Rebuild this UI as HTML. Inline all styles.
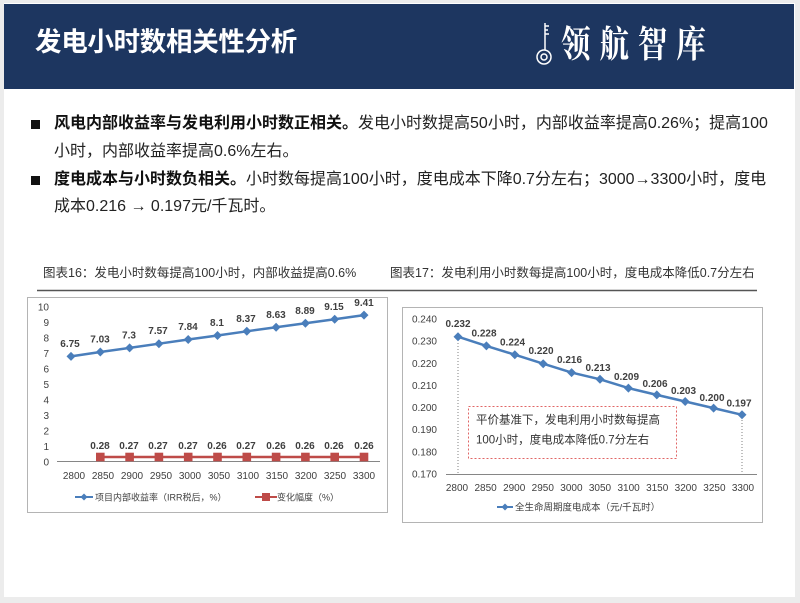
<!DOCTYPE html>
<html><head><meta charset="utf-8">
<style>
html,body{margin:0;padding:0;}
body{width:800px;height:603px;background:#ececec;position:relative;overflow:hidden;font-family:"Liberation Sans","Noto Sans CJK SC",sans-serif;}
#slide{position:absolute;left:4px;top:3px;width:791px;height:594px;background:#fff;}
#hdr{position:absolute;left:4px;top:4px;width:790px;height:85px;background:#1d3660;}
#title{position:absolute;left:35px;top:25px;font-size:26.5px;line-height:30px;font-weight:bold;color:#fff;font-family:"Noto Sans CJK SC",sans-serif;white-space:nowrap;letter-spacing:-0.3px;}
#logo{position:absolute;left:561px;top:20px;font-size:37px;line-height:42px;font-weight:bold;color:#fff;font-family:"Noto Serif CJK SC",serif;white-space:nowrap;letter-spacing:11px;transform:scaleX(0.8);transform-origin:left center;}
.bl{position:absolute;left:54px;font-size:16px;line-height:20px;color:#222;white-space:nowrap;font-family:"Liberation Sans","Noto Sans CJK SC",sans-serif;}
.bl b{color:#111;}
.sq{position:absolute;left:31px;width:9px;height:9px;background:#111;}
.ct{position:absolute;font-size:12.5px;line-height:16px;color:#333;white-space:nowrap;font-family:"Liberation Sans","Noto Sans CJK SC",sans-serif;}
svg text{font-family:"Liberation Sans","Noto Sans CJK SC",sans-serif;}
</style></head><body>
<div id="slide"></div>
<div id="hdr"></div>
<div id="title">发电小时数相关性分析</div>
<div id="logo">领航智库</div>

<div class="sq" style="top:120px"></div>
<div class="bl" style="top:114px"><b>风电内部收益率与发电利用小时数正相关。</b>发电小时数提高50小时，内部收益率提高0.26%；提高100</div>
<div class="bl" style="top:142px">小时，内部收益率提高0.6%左右。</div>
<div class="sq" style="top:176px"></div>
<div class="bl" style="top:170px"><b>度电成本与小时数负相关。</b>小时数每提高100小时，度电成本下降0.7分左右；3000→3300小时，度电</div>
<div class="bl" style="top:197px">成本0.216 → 0.197元/千瓦时。</div>

<div class="ct" style="left:43px;top:265px">图表16：发电小时数每提高100小时，内部收益提高0.6%</div>
<div class="ct" style="left:390px;top:265px">图表17：发电利用小时数每提高100小时，度电成本降低0.7分左右</div>

<svg width="800" height="603" style="position:absolute;left:0;top:0" xmlns="http://www.w3.org/2000/svg">
<!-- key icon -->
<g stroke="#fff" fill="none" stroke-width="1.5">
<line x1="545" y1="23" x2="545" y2="50"/>
<line x1="545" y1="26" x2="549" y2="26"/>
<line x1="545" y1="30" x2="548" y2="30"/>
<line x1="545" y1="34" x2="549" y2="34"/>
<circle cx="544" cy="57" r="7"/>
<circle cx="544" cy="57" r="3"/>
</g>
<!-- separator -->
<line x1="37" y1="290.5" x2="757" y2="290.5" stroke="#555" stroke-width="1.5"/>

<!-- LEFT CHART -->
<rect x="27.5" y="297.5" width="360" height="215" fill="#fff" stroke="#b4b4b4"/>
<g font-size="10" fill="#404040" text-anchor="end">
<text x="49" y="310.5">10</text><text x="49" y="326">9</text><text x="49" y="341.5">8</text><text x="49" y="357">7</text><text x="49" y="372.5">6</text><text x="49" y="388">5</text><text x="49" y="403.5">4</text><text x="49" y="419">3</text><text x="49" y="434.5">2</text><text x="49" y="450">1</text><text x="49" y="465.5">0</text>
</g>
<line x1="57" y1="461.5" x2="380" y2="461.5" stroke="#868686"/>
<g font-size="10" fill="#404040" text-anchor="middle">
<text x="74" y="479">2800</text><text x="103" y="479">2850</text><text x="132" y="479">2900</text><text x="161" y="479">2950</text><text x="190" y="479">3000</text><text x="219" y="479">3050</text><text x="248" y="479">3100</text><text x="277" y="479">3150</text><text x="306" y="479">3200</text><text x="335" y="479">3250</text><text x="364" y="479">3300</text>
</g>
<polyline fill="none" stroke="#4a7ebb" stroke-width="2.5" points="71,356.4 100.3,352 129.6,347.9 158.9,343.7 188.2,339.5 217.5,335.5 246.8,331.3 276.1,327.2 305.4,323.2 334.7,319.2 364,315.1"/>
<g fill="#4a7ebb">
<path d="M71,351.9l4.5,4.5l-4.5,4.5l-4.5,-4.5z"/><path d="M100.3,347.5l4.5,4.5l-4.5,4.5l-4.5,-4.5z"/><path d="M129.6,343.4l4.5,4.5l-4.5,4.5l-4.5,-4.5z"/><path d="M158.9,339.2l4.5,4.5l-4.5,4.5l-4.5,-4.5z"/><path d="M188.2,335l4.5,4.5l-4.5,4.5l-4.5,-4.5z"/><path d="M217.5,331l4.5,4.5l-4.5,4.5l-4.5,-4.5z"/><path d="M246.8,326.8l4.5,4.5l-4.5,4.5l-4.5,-4.5z"/><path d="M276.1,322.7l4.5,4.5l-4.5,4.5l-4.5,-4.5z"/><path d="M305.4,318.7l4.5,4.5l-4.5,4.5l-4.5,-4.5z"/><path d="M334.7,314.7l4.5,4.5l-4.5,4.5l-4.5,-4.5z"/><path d="M364,310.6l4.5,4.5l-4.5,4.5l-4.5,-4.5z"/>
</g>
<g font-size="10" font-weight="bold" fill="#404040" text-anchor="middle">
<text x="70" y="347">6.75</text><text x="100" y="342.5">7.03</text><text x="129" y="338.5">7.3</text><text x="158" y="334">7.57</text><text x="188" y="330">7.84</text><text x="217" y="326">8.1</text><text x="246" y="322">8.37</text><text x="276" y="318">8.63</text><text x="305" y="314">8.89</text><text x="334" y="310">9.15</text><text x="364" y="306">9.41</text>
</g>
<polyline fill="none" stroke="#be4b48" stroke-width="2.5" points="100.3,457 129.6,457 158.9,457 188.2,457 217.5,457 246.8,457 276.1,457 305.4,457 334.7,457 364,457"/>
<g fill="#be4b48">
<rect x="96" y="452.7" width="8.6" height="8.6"/><rect x="125.3" y="452.7" width="8.6" height="8.6"/><rect x="154.6" y="452.7" width="8.6" height="8.6"/><rect x="183.9" y="452.7" width="8.6" height="8.6"/><rect x="213.2" y="452.7" width="8.6" height="8.6"/><rect x="242.5" y="452.7" width="8.6" height="8.6"/><rect x="271.8" y="452.7" width="8.6" height="8.6"/><rect x="301.1" y="452.7" width="8.6" height="8.6"/><rect x="330.4" y="452.7" width="8.6" height="8.6"/><rect x="359.7" y="452.7" width="8.6" height="8.6"/>
</g>
<g font-size="10" font-weight="bold" fill="#404040" text-anchor="middle">
<text x="100" y="449">0.28</text><text x="129" y="449">0.27</text><text x="158" y="449">0.27</text><text x="188" y="449">0.27</text><text x="217" y="449">0.26</text><text x="246" y="449">0.27</text><text x="276" y="449">0.26</text><text x="305" y="449">0.26</text><text x="334" y="449">0.26</text><text x="364" y="449">0.26</text>
</g>
<line x1="75" y1="497" x2="93" y2="497" stroke="#4a7ebb" stroke-width="2"/>
<path d="M84,493.5l3.5,3.5l-3.5,3.5l-3.5,-3.5z" fill="#4a7ebb"/>
<text x="95" y="500.5" font-size="9" fill="#404040">项目内部收益率（IRR税后，%）</text>
<line x1="255" y1="497" x2="277" y2="497" stroke="#be4b48" stroke-width="2"/>
<rect x="262" y="493" width="8" height="8" fill="#be4b48"/>
<text x="277" y="500.5" font-size="9" fill="#404040">变化幅度（%）</text>

<!-- RIGHT CHART -->
<rect x="402.5" y="307.5" width="360" height="215" fill="#fff" stroke="#b4b4b4"/>
<g font-size="10" fill="#404040" text-anchor="end">
<text x="437" y="322.5">0.240</text><text x="437" y="344.6">0.230</text><text x="437" y="366.8">0.220</text><text x="437" y="388.9">0.210</text><text x="437" y="411">0.200</text><text x="437" y="433.2">0.190</text><text x="437" y="455.3">0.180</text><text x="437" y="477.5">0.170</text>
</g>
<line x1="446" y1="474.5" x2="757" y2="474.5" stroke="#868686"/>
<g font-size="10" fill="#404040" text-anchor="middle">
<text x="457" y="491">2800</text><text x="485.6" y="491">2850</text><text x="514.2" y="491">2900</text><text x="542.8" y="491">2950</text><text x="571.4" y="491">3000</text><text x="600" y="491">3050</text><text x="628.6" y="491">3100</text><text x="657.2" y="491">3150</text><text x="685.8" y="491">3200</text><text x="714.4" y="491">3250</text><text x="743" y="491">3300</text>
</g>
<line x1="458" y1="337" x2="458" y2="474" stroke="#808080" stroke-dasharray="1,2"/>
<line x1="742" y1="414" x2="742" y2="474" stroke="#808080" stroke-dasharray="1,2"/>
<polyline fill="none" stroke="#4a7ebb" stroke-width="2.5" points="458,336.7 486.4,345.9 514.8,354.7 543.2,363.7 571.6,372.6 600,379.3 628.4,388.1 656.8,394.9 685.2,401.5 713.6,408.1 742,414.8"/>
<g fill="#4a7ebb">
<path d="M458,332.2l4.5,4.5l-4.5,4.5l-4.5,-4.5z"/><path d="M486.4,341.4l4.5,4.5l-4.5,4.5l-4.5,-4.5z"/><path d="M514.8,350.2l4.5,4.5l-4.5,4.5l-4.5,-4.5z"/><path d="M543.2,359.2l4.5,4.5l-4.5,4.5l-4.5,-4.5z"/><path d="M571.6,368.1l4.5,4.5l-4.5,4.5l-4.5,-4.5z"/><path d="M600,374.8l4.5,4.5l-4.5,4.5l-4.5,-4.5z"/><path d="M628.4,383.6l4.5,4.5l-4.5,4.5l-4.5,-4.5z"/><path d="M656.8,390.4l4.5,4.5l-4.5,4.5l-4.5,-4.5z"/><path d="M685.2,397l4.5,4.5l-4.5,4.5l-4.5,-4.5z"/><path d="M713.6,403.6l4.5,4.5l-4.5,4.5l-4.5,-4.5z"/><path d="M742,410.3l4.5,4.5l-4.5,4.5l-4.5,-4.5z"/>
</g>
<g font-size="10" font-weight="bold" fill="#404040" text-anchor="middle">
<text x="458" y="327">0.232</text><text x="484" y="336.5">0.228</text><text x="512.5" y="345.5">0.224</text><text x="541" y="354">0.220</text><text x="569.5" y="363">0.216</text><text x="598" y="371">0.213</text><text x="626.5" y="380">0.209</text><text x="655" y="387">0.206</text><text x="683.5" y="394">0.203</text><text x="712" y="401">0.200</text><text x="739" y="406.5">0.197</text>
</g>
<rect x="468.5" y="406.5" width="208" height="52" fill="#fff" stroke="#e06666" stroke-dasharray="2,2"/>
<text x="476" y="423.5" font-size="11.5" fill="#333">平价基准下，发电利用小时数每提高</text>
<text x="476" y="443.5" font-size="11.5" fill="#333">100小时，度电成本降低0.7分左右</text>
<line x1="497" y1="507" x2="513" y2="507" stroke="#4a7ebb" stroke-width="2"/>
<path d="M505,503.5l3.5,3.5l-3.5,3.5l-3.5,-3.5z" fill="#4a7ebb"/>
<text x="515" y="510.5" font-size="9.5" fill="#404040">全生命周期度电成本（元/千瓦时）</text>
</svg>
</body></html>
